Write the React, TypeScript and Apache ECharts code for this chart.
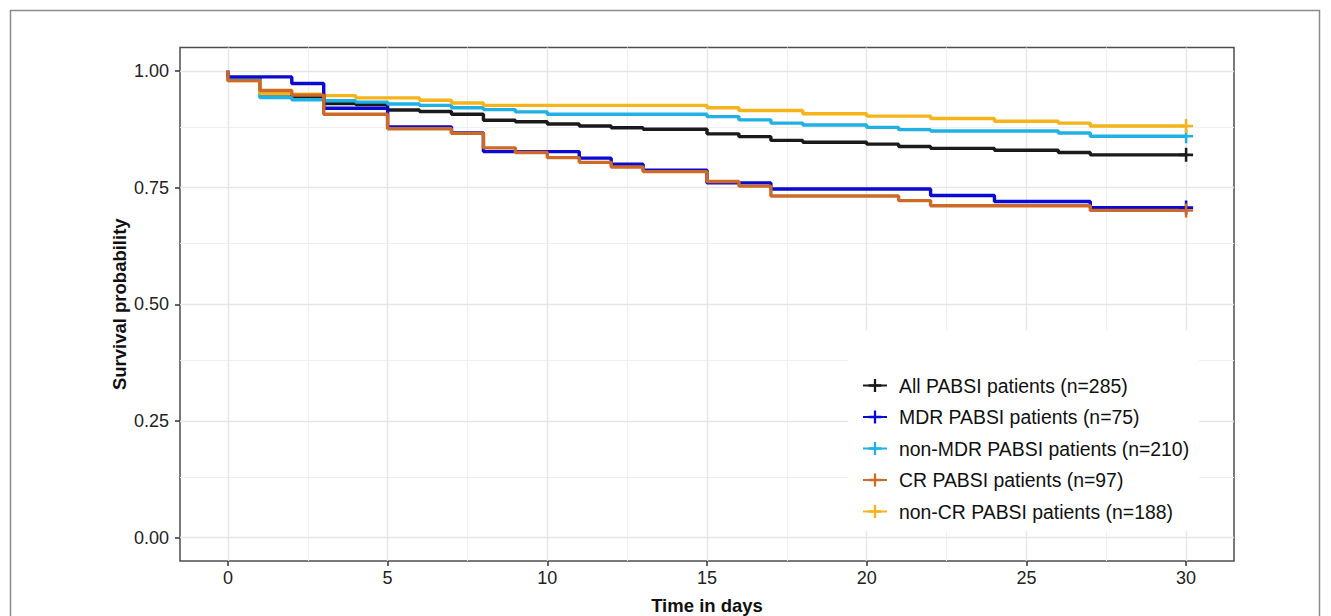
import React, { useEffect, useRef } from "react";
import * as echarts from "echarts";

// ---- data ----
const xTicks = [0, 5, 10, 15, 20, 25, 30];
const xMinor = [2.5, 7.5, 12.5, 17.5, 22.5, 27.5];
const yTicks = [0, 0.25, 0.5, 0.75, 1];
const yMinor = [0.125, 0.375, 0.625, 0.875];

const allT = [0, 0, 1, 2, 3, 4, 5, 6, 7, 8, 9, 10, 11, 12, 13, 15, 16, 17, 18, 20, 21, 22, 24, 26, 27, 30];
const allS = [1, 0.985, 0.951, 0.944, 0.930, 0.928, 0.916, 0.913, 0.907, 0.894, 0.891, 0.886, 0.882, 0.878, 0.875, 0.865, 0.859, 0.851, 0.847, 0.843, 0.838, 0.834, 0.830, 0.825, 0.820, 0.820];

const mdrT = [0, 0, 2, 3, 5, 7, 8, 11, 12, 13, 15, 17, 22, 24, 27, 30];
const mdrS = [1, 0.987, 0.973, 0.920, 0.880, 0.867, 0.827, 0.813, 0.800, 0.787, 0.760, 0.747, 0.733, 0.720, 0.707, 0.707];

const nonMdrT = [0, 0, 1, 2, 3, 4, 5, 6, 7, 8, 9, 10, 15, 16, 17, 18, 20, 21, 22, 26, 27, 30];
const nonMdrS = [1, 0.981, 0.943, 0.938, 0.936, 0.933, 0.929, 0.926, 0.921, 0.917, 0.912, 0.907, 0.902, 0.895, 0.888, 0.884, 0.879, 0.874, 0.871, 0.867, 0.860, 0.860];

const crT = [0, 0, 1, 2, 3, 5, 7, 8, 9, 10, 11, 12, 13, 15, 16, 17, 21, 22, 27, 30];
const crS = [1, 0.979, 0.958, 0.948, 0.907, 0.876, 0.866, 0.835, 0.825, 0.814, 0.804, 0.794, 0.784, 0.763, 0.753, 0.732, 0.722, 0.711, 0.701, 0.701];

const nonCrT = [0, 0, 1, 2, 3, 4, 6, 7, 8, 15, 16, 18, 20, 22, 24, 26, 27, 30];
const nonCrS = [1, 0.979, 0.952, 0.950, 0.947, 0.942, 0.937, 0.931, 0.926, 0.921, 0.915, 0.908, 0.903, 0.898, 0.892, 0.888, 0.882, 0.882];

const names = [
  "All PABSI patients (n=285)",
  "MDR PABSI patients (n=75)",
  "non-MDR PABSI patients (n=210)",
  "CR PABSI patients (n=97)",
  "non-CR PABSI patients (n=188)",
];
const colors = ["#1a1a1a", "#0a0ad2", "#1fb1e4", "#cd6a27", "#f5b41a"];

const PLUS = "path://M4.1,0L5.9,0L5.9,4.1L10,4.1L10,5.9L5.9,5.9L5.9,10L4.1,10L4.1,5.9L0,5.9L0,4.1L4.1,4.1Z";
const FONT = "Liberation Sans, Arial, sans-serif";

function zip(t: number[], s: number[]) {
  return t.map((v, i) => [v, s[i]]);
}

export default function App() {
  const ref = useRef<HTMLDivElement>(null);
  useEffect(() => {
    if (!ref.current) return;
    const chart = echarts.init(ref.current, null, { renderer: "svg" });
    const curves = [
      { name: names[0], data: zip(allT, allS), color: colors[0] },
      { name: names[2], data: zip(nonMdrT, nonMdrS), color: colors[2] },
      { name: names[4], data: zip(nonCrT, nonCrS), color: colors[4] },
      { name: names[1], data: zip(mdrT, mdrS), color: colors[1] },
      { name: names[3], data: zip(crT, crS), color: colors[3] },
    ];
    const major = { color: "#e6e6e6", width: 1.4, type: "solid" as const };
    const minor = { color: "#efefef", width: 1, type: "solid" as const };
    const gridLines = [
      ...xMinor.map((v) => ({ xAxis: v, lineStyle: minor })),
      ...yMinor.map((v) => ({ yAxis: v, lineStyle: minor })),
      ...xTicks.map((v) => ({ xAxis: v, lineStyle: major })),
      ...yTicks.map((v) => ({ yAxis: v, lineStyle: major })),
    ];
    chart.setOption({
      animation: false,
      backgroundColor: "#ffffff",
      textStyle: { fontFamily: FONT },
      graphic: [
        {
          type: "rect",
          shape: { x: 10.5, y: 10.5, width: 1309, height: 650 },
          style: { fill: "none", stroke: "#8a8a8a", lineWidth: 1.5 },
          z: -10,
          silent: true,
        },
      ],
      grid: {
        left: 180,
        right: 97,
        top: 47.5,
        bottom: 55,
        outerBoundsMode: "none",
        containLabel: false,
        show: true,
        borderColor: "#4d4d4d",
        borderWidth: 1.5,
        backgroundColor: "#ffffff",
      },
      xAxis: {
        type: "value",
        min: -1.5,
        max: 31.5,
        axisLine: { show: false, onZero: false },
        axisTick: { show: true, customValues: xTicks, length: 5, lineStyle: { color: "#333", width: 1.5 } },
        axisLabel: { customValues: xTicks, fontSize: 18, color: "#222", margin: 8, fontFamily: FONT },
        splitLine: { show: false },
        name: "Time in days",
        nameLocation: "middle",
        nameGap: 35,
        nameMoveOverlap: false,
        nameTextStyle: { fontWeight: "bold", fontSize: 18.5, color: "#111", fontFamily: FONT },
      },
      yAxis: {
        type: "value",
        min: -0.05,
        max: 1.05,
        axisLine: { show: false, onZero: false },
        axisTick: { show: true, customValues: yTicks, length: 5, lineStyle: { color: "#333", width: 1.5 } },
        axisLabel: {
          customValues: yTicks,
          fontSize: 18,
          color: "#222",
          margin: 11,
          fontFamily: FONT,
          formatter: (v: number) => v.toFixed(2),
        },
        splitLine: { show: false },
        name: "Survival probability",
        nameLocation: "middle",
        nameRotate: 90,
        nameGap: 51,
        nameMoveOverlap: false,
        nameTextStyle: { fontWeight: "bold", fontSize: 18.5, color: "#111", fontFamily: FONT },
      },
      legend: {
        data: names,
        orient: "vertical",
        left: 848,
        top: 330,
        backgroundColor: "#ffffff",
        padding: [46, 10, 10, 14],
        itemWidth: 24,
        itemHeight: 16,
        itemGap: 12.5,
        selectedMode: false,
        textStyle: { fontSize: 19.4, color: "#111", fontFamily: FONT, padding: [0, 0, 0, 7] },
      },
      series: [
        {
          type: "line",
          name: "gridlines",
          data: [],
          silent: true,
          z: 0,
          markLine: {
            silent: true,
            z: 0,
            symbol: ["none", "none"],
            label: { show: false },
            emphasis: { disabled: true },
            data: gridLines,
          },
        },
        ...curves.map((c) => ({
          type: "line",
          name: c.name,
          step: "end",
          data: c.data,
          symbol: PLUS,
          symbolSize: (v: number[]) => (v[0] >= 30 ? 14 : 0),
          showSymbol: true,
          showAllSymbol: true,
          lineStyle: { color: c.color, width: 3.4 },
          itemStyle: { color: c.color },
          emphasis: { disabled: true },
          silent: true,
          z: 2,
        })),
      ],
    });
    return () => chart.dispose();
  }, []);
  return (
    <div
      ref={ref}
      style={{ position: "fixed", left: 0, top: 0, width: 1331, height: 616, background: "#fff" }}
    />
  );
}
